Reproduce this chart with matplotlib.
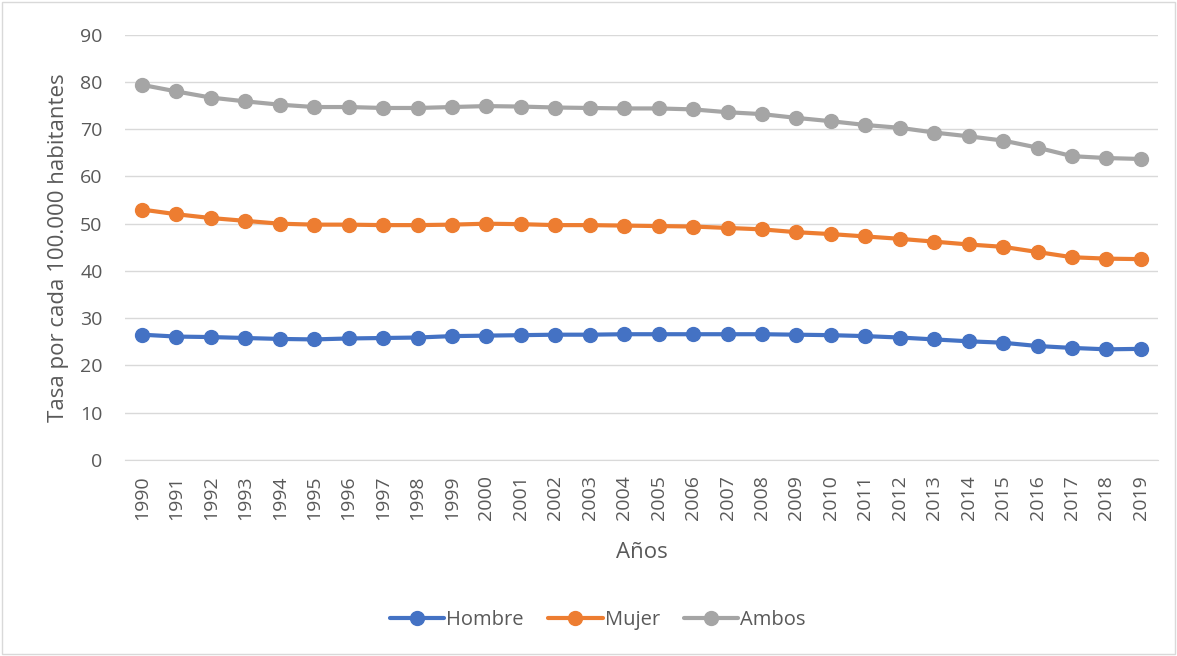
import matplotlib.pyplot as plt
from matplotlib.patches import Rectangle

plt.rcParams['font.family'] = ['Open Sans', 'DejaVu Sans']

years = [str(y) for y in range(1990, 2020)]
hombre = [26.5, 26.1, 26.0, 25.8, 25.6, 25.5, 25.7, 25.8, 25.9, 26.2,
          26.3, 26.4, 26.5, 26.5, 26.6, 26.6, 26.6, 26.6, 26.6, 26.5,
          26.4, 26.2, 25.9, 25.5, 25.1, 24.8, 24.1, 23.7, 23.4, 23.5]
mujer = [53.0, 52.0, 51.2, 50.6, 50.0, 49.8, 49.8, 49.7, 49.7, 49.8,
         50.0, 49.9, 49.7, 49.7, 49.6, 49.5, 49.4, 49.1, 48.8, 48.2,
         47.8, 47.3, 46.8, 46.2, 45.6, 45.1, 44.0, 42.9, 42.6, 42.5]
ambos = [79.4, 78.0, 76.7, 75.9, 75.2, 74.7, 74.7, 74.5, 74.5, 74.7,
         74.9, 74.8, 74.6, 74.5, 74.4, 74.4, 74.2, 73.6, 73.2, 72.4,
         71.7, 70.9, 70.3, 69.3, 68.5, 67.6, 66.1, 64.3, 63.9, 63.7]

series = [("Hombre", hombre, "#4472C4"),
          ("Mujer", mujer, "#ED7D31"),
          ("Ambos", ambos, "#A5A5A5")]

fig = plt.figure(figsize=(11.77, 6.56), dpi=100)
ax = fig.add_axes([0.106, 0.299, 0.878, 0.648])

x = range(len(years))
for name, vals, col in series:
    ax.plot(x, vals, color=col, lw=3, marker="o", ms=10, label=name,
            solid_capstyle="round")

txt = "#595959"
ax.set_xlim(-0.5, len(years) - 0.5)
ax.set_ylim(0, 90)
ax.set_yticks(range(0, 91, 10))
ax.set_xticks(list(x))
ax.set_xticklabels(years, rotation=90)
ax.tick_params(axis="both", length=0, labelsize=14, colors=txt)
ax.tick_params(axis="y", pad=16)
ax.tick_params(axis="x", pad=11)
ax.grid(axis="y", color="#D9D9D9", lw=1)
ax.set_axisbelow(True)
for s in ["top", "right", "left"]:
    ax.spines[s].set_visible(False)
ax.spines["bottom"].set_color("#D9D9D9")

ax.set_ylabel("Tasa por cada 100.000 habitantes", fontsize=16, color=txt, labelpad=8)
ax.set_xlabel("Años", fontsize=16, color=txt, labelpad=16)

fig.legend(loc="center", bbox_to_anchor=(0.508, 0.055), ncol=3, frameon=False,
           fontsize=14.5, labelcolor=txt, handlelength=2.7, handletextpad=0.1,
           columnspacing=1.2)

fig.patches.append(Rectangle((0.002, 0.003), 0.996, 0.994, transform=fig.transFigure,
                             fill=False, edgecolor="#D9D9D9", lw=1))

fig.savefig("out.png", dpi=100)
